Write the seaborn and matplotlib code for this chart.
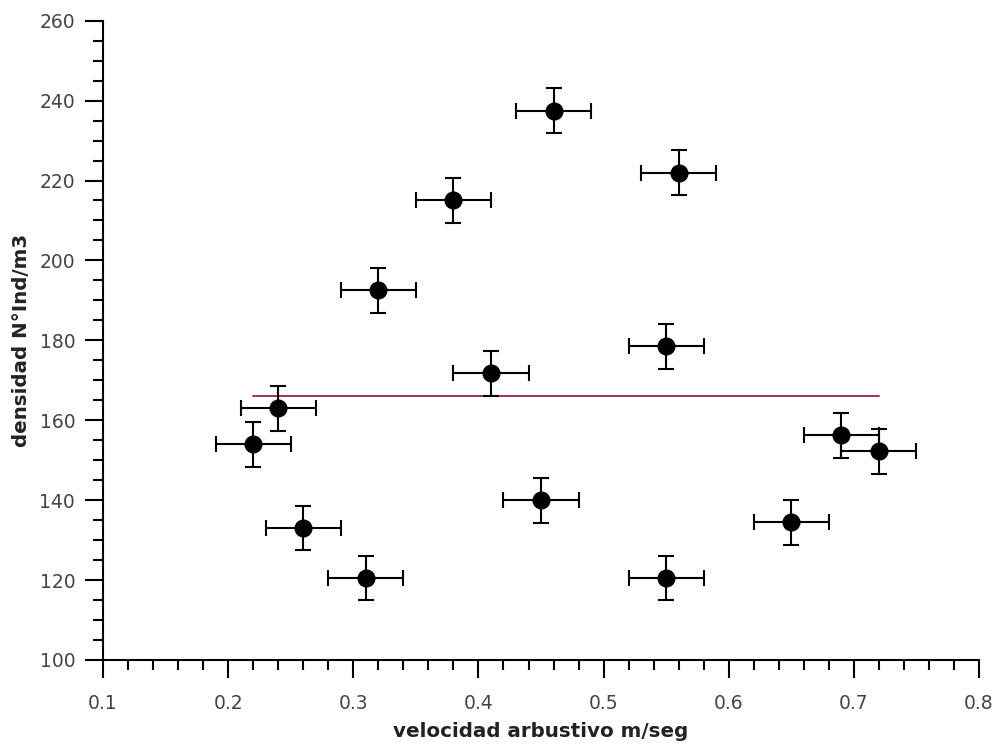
import numpy as np
import pandas as pd
import matplotlib
matplotlib.use("Agg")
import matplotlib.pyplot as plt
from matplotlib.ticker import MultipleLocator
import seaborn as sns

# Shrub-layer velocity vs. density measurements
velocidad = [0.22, 0.24, 0.26, 0.31, 0.32, 0.38, 0.41, 0.45, 0.46, 0.55, 0.55, 0.56, 0.65, 0.69, 0.72]
densidad = [154.0, 163.0, 133.0, 120.5, 192.5, 215.0, 171.75, 140.0, 237.5, 178.5, 120.5, 222.0, 134.5, 156.25, 152.25]
err_velocidad = [0.03] * len(velocidad)
err_densidad = [5.6] * len(densidad)

# Mean density level drawn across the sampled velocity range
media_densidad = 166.1
tramo_media = [0.22, 0.72]

df = pd.DataFrame({
    "velocidad": velocidad,
    "densidad": densidad,
    "ex": err_velocidad,
    "ey": err_densidad,
})

sns.set_theme(style="ticks")
plt.rcParams["font.family"] = ["DejaVu Sans"]

fig = plt.figure(figsize=(9.97, 7.47), dpi=100)
ax = fig.add_axes([0.1033, 0.1165, 0.8787, 0.8558])

ax.errorbar(df["velocidad"], df["densidad"], xerr=df["ex"], yerr=df["ey"],
            fmt="none", ecolor="black", elinewidth=1.5, capsize=5.8,
            capthick=1.5, zorder=2)
sns.scatterplot(data=df, x="velocidad", y="densidad", ax=ax, color="black",
                s=170, edgecolor="black", linewidth=0, zorder=3)
sns.lineplot(x=tramo_media, y=[media_densidad, media_densidad], ax=ax,
             color="#a3203a", linewidth=1.3, zorder=1)

ax.set_xlim(0.1, 0.8)
ax.set_ylim(100, 260)
ax.xaxis.set_major_locator(MultipleLocator(0.1))
ax.xaxis.set_minor_locator(MultipleLocator(0.02))
ax.yaxis.set_major_locator(MultipleLocator(20))
ax.yaxis.set_minor_locator(MultipleLocator(5))
ax.set_xticks(np.round(np.arange(0.1, 0.81, 0.1), 1))
ax.set_xticklabels([f"{v:.1f}" for v in np.arange(0.1, 0.81, 0.1)])

sns.despine(ax=ax)
for side in ("left", "bottom"):
    ax.spines[side].set_linewidth(1.5)
    ax.spines[side].set_color("black")

ax.tick_params(which="major", length=13, width=1.5, color="black",
               labelsize=13.5, labelcolor="#444444", direction="out")
ax.tick_params(which="minor", length=7.2, width=1.5, color="black", direction="out")
ax.tick_params(axis="x", which="major", pad=11.5)
ax.tick_params(axis="y", which="major", pad=7)

ax.set_xlabel("velocidad arbustivo m/seg", fontsize=14.3, fontweight="bold", color="#222222")
ax.set_ylabel("densidad N°Ind/m3", fontsize=14.3, fontweight="bold", color="#222222")
ax.xaxis.set_label_coords(0.5, -0.097)
ax.yaxis.set_label_coords(-0.082, 0.5)

fig.savefig("out.png", dpi=100, facecolor="white")
